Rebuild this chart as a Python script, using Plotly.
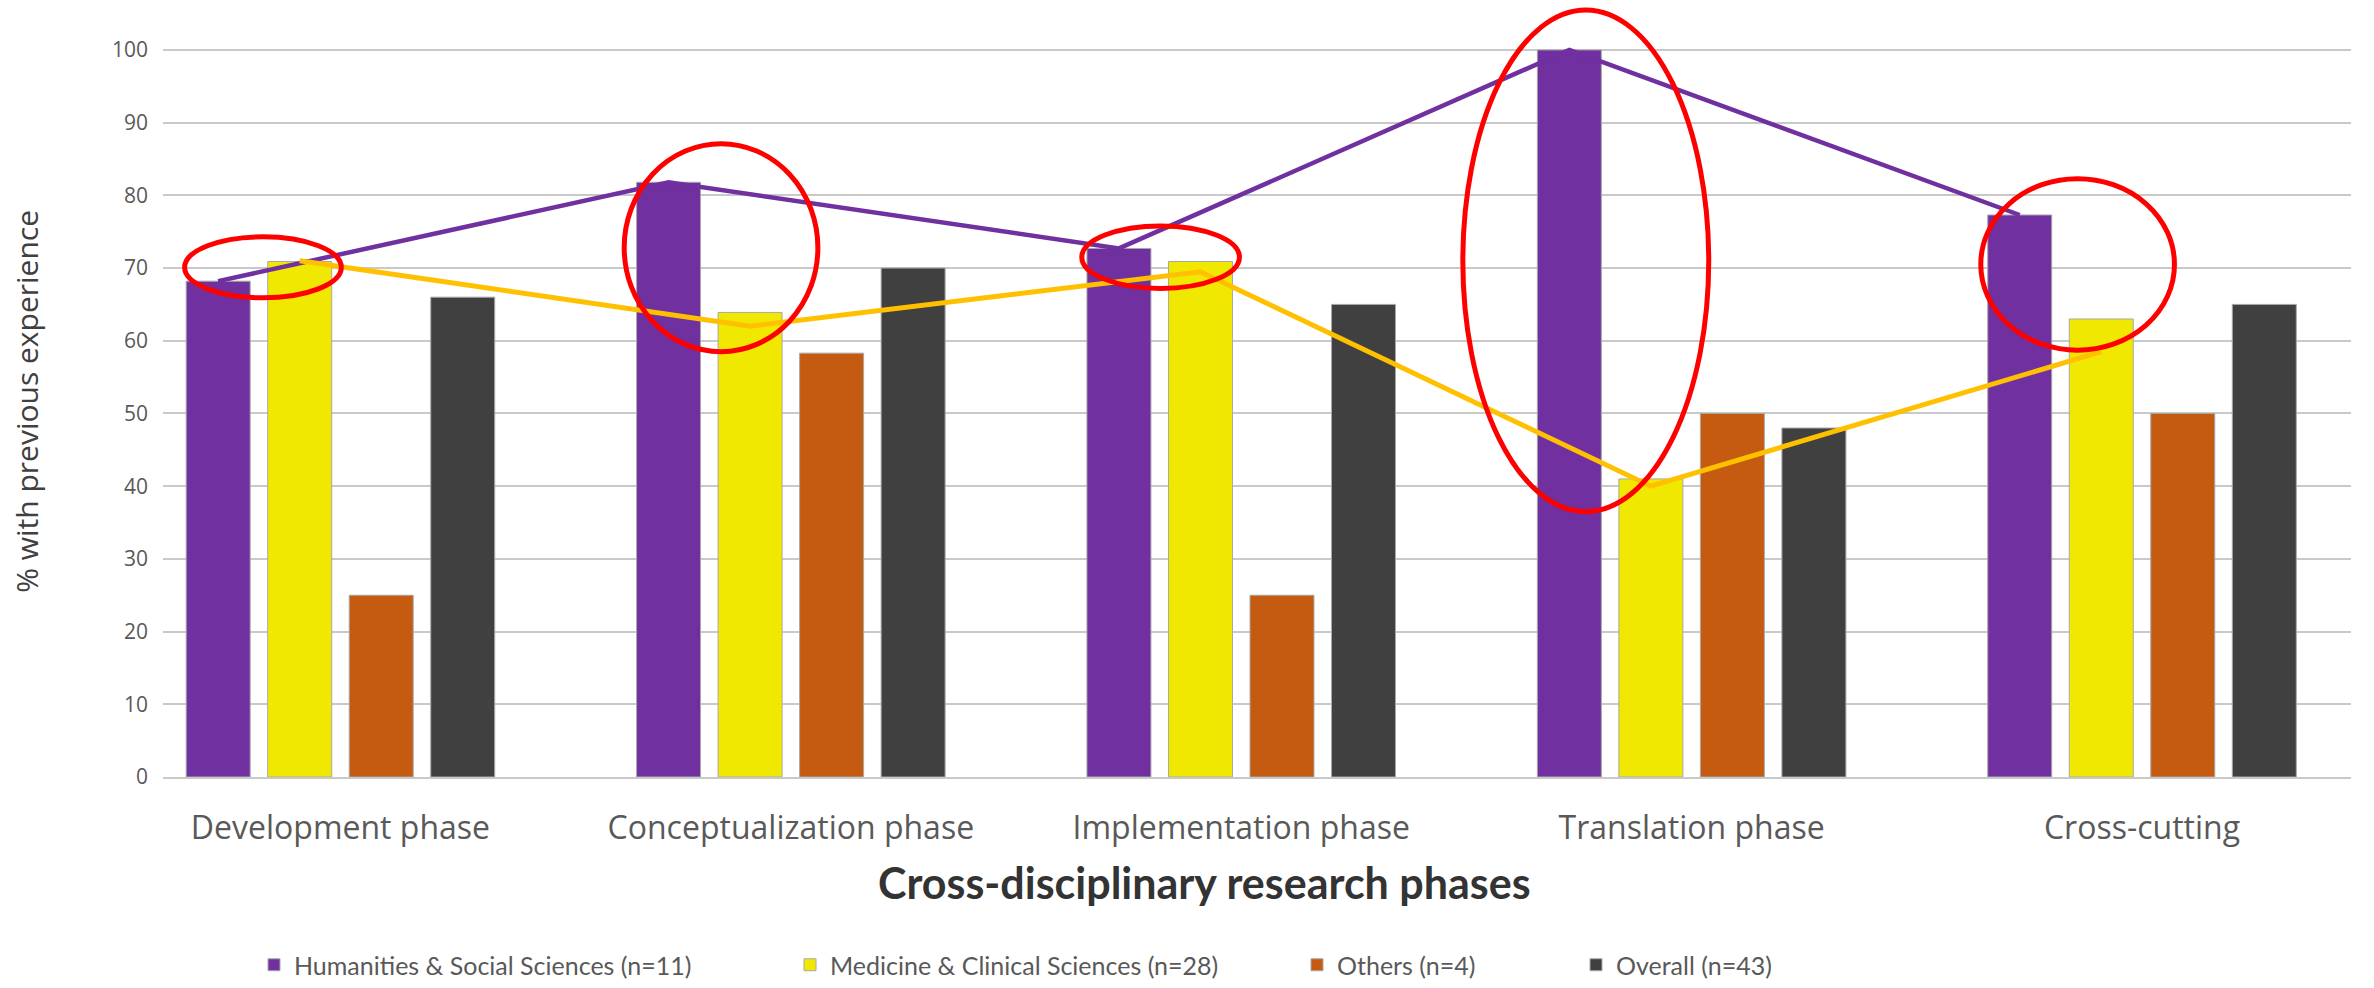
import plotly.graph_objects as go

# ---------------- data ----------------
categories = ["Development phase", "Conceptualization phase", "Implementation phase",
              "Translation phase", "Cross-cutting"]
humanities = [68.2, 81.8, 72.7, 100.0, 77.3]      # Humanities & Social Sciences (n=11)
medicine = [70.9, 63.9, 70.9, 41.0, 63.0]         # Medicine & Clinical Sciences (n=28)
others = [25.0, 58.3, 25.0, 50.0, 50.0]           # Others (n=4)
overall = [66.0, 70.0, 65.0, 48.0, 65.0]          # Overall (n=43)
medicine_trend = [71.0, 62.0, 69.5, 40.0, 58.5]   # hand-drawn yellow trend line
series_names = ["Humanities & Social Sciences (n=11)", "Medicine & Clinical Sciences (n=28)",
                "Others (n=4)", "Overall (n=43)"]
y_ticks = [0, 10, 20, 30, 40, 50, 60, 70, 80, 90, 100]
x_title = "Cross-disciplinary research phases"
y_title = "% with previous experience"

# ---------------- style ----------------
colors = ["#7030A0", "#F0E800", "#C55A11", "#404040"]
purple_line = "#7030A0"
yellow_line = "#FFC000"
grid = "#C9C9C9"
BARGAP = 0.276
BARGROUPGAP = 0.215
n_series = 4
slot = (1 - BARGAP) / n_series

x_idx = list(range(len(categories)))

fig = go.Figure()
legend_ids = ["legend", "legend2", "legend3", "legend4"]
for name, vals, col, lg in zip(series_names, [humanities, medicine, others, overall], colors, legend_ids):
    fig.add_trace(go.Bar(
        x=x_idx, y=vals, name=name, marker=dict(color=col, line=dict(color="#A8A8A8", width=1)),
        legend=lg, showlegend=True,
    ))

# trend lines through the purple and yellow bars
purple_x = [i - 1.5 * slot for i in x_idx]
yellow_x = [i - 0.5 * slot for i in x_idx]
fig.add_trace(go.Scatter(x=purple_x, y=humanities, mode="lines",
                         line=dict(color=purple_line, width=4.5), showlegend=False, hoverinfo="skip"))
fig.add_trace(go.Scatter(x=yellow_x, y=medicine_trend, mode="lines",
                         line=dict(color=yellow_line, width=5), showlegend=False, hoverinfo="skip"))

# red highlight ellipses: (category, dx, centre value, half-width, half-height)
highlights = [
    (0, -0.172, 70.1, 0.174, 4.2),
    (1, -0.155, 72.8, 0.215, 14.3),
    (2, -0.179, 71.5, 0.175, 4.3),
    (3, -0.235, 71.0, 0.273, 34.5),
    (4, -0.143, 70.5, 0.215, 11.8),
]
for c, dx, cy, rx, ry in highlights:
    fig.add_shape(type="circle", xref="x", yref="y",
                  x0=c + dx - rx, x1=c + dx + rx, y0=cy - ry, y1=cy + ry,
                  line=dict(color="#FF0000", width=5), layer="above")

W, H = 2374, 988
ml, mr, mt, mb = 163, 23, 0, 210
plot_w = W - ml - mr
plot_h = H - mt - mb

def px_x(px):
    return (px - ml) / plot_w

def px_y(py):
    return (plot_h - (py - mt)) / plot_h

leg_common = dict(orientation="h", yanchor="middle", y=px_y(966), xanchor="left",
                  font=dict(family="Lato", size=25, color="#595959"),
                  bgcolor="rgba(0,0,0,0)", itemclick=False)

# axis titles placed as annotations to match the original placement
fig.add_annotation(text=x_title, xref="paper", yref="paper", x=px_x(1204), y=px_y(884),
                   xanchor="center", yanchor="middle", showarrow=False,
                   font=dict(family="Lato", size=43, color="#333333", weight="bold"))
fig.add_annotation(text=y_title, xref="paper", yref="y", x=px_x(27), y=51.6,
                   xanchor="center", yanchor="middle", showarrow=False, textangle=-90,
                   font=dict(family="Open Sans", size=30, color="#404040"))

fig.update_layout(
    width=W, height=H,
    margin=dict(l=ml, r=mr, t=mt, b=mb),
    paper_bgcolor="white", plot_bgcolor="white",
    barmode="group", bargap=BARGAP, bargroupgap=BARGROUPGAP,
    legend=dict(x=px_x(254), **leg_common),
    legend2=dict(x=px_x(790), **leg_common),
    legend3=dict(x=px_x(1297), **leg_common),
    legend4=dict(x=px_x(1576), **leg_common),
    xaxis=dict(
        range=[-0.394, 4.464], tickmode="array", tickvals=x_idx, ticktext=categories,
        showgrid=False, zeroline=False, showline=True, linecolor=grid, linewidth=2,
        ticks="", tickfont=dict(family="Open Sans", size=32, color="#595959"),
        ticklabelstandoff=22,
    ),
    yaxis=dict(
        range=[0, 106.87], tickmode="array", tickvals=y_ticks,
        showgrid=True, gridcolor=grid, gridwidth=2, zeroline=False, showline=False,
        ticks="", tickfont=dict(family="Open Sans", size=21, color="#595959"),
        ticklabelstandoff=14,
    ),
)

fig.write_html("out.html", config={"displayModeBar": False},
               post_script="document.body.style.margin='0';document.body.style.overflow='hidden';")
